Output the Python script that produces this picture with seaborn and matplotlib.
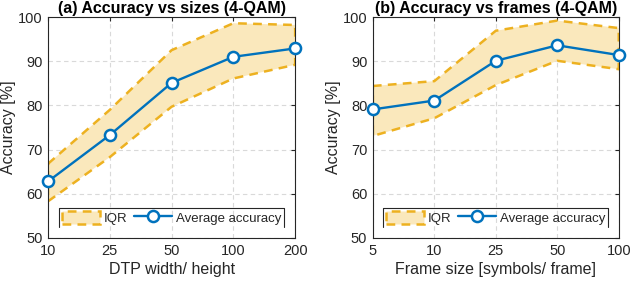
import matplotlib
matplotlib.use("Agg")
import matplotlib.pyplot as plt
import matplotlib.patches as mpatches
import seaborn as sns
import pandas as pd


# Data
SIZE_LABELS = ["10", "25", "50", "100", "200"]
SIZE_MEAN = [62.8, 73.3, 85.1, 91.0, 92.9]
SIZE_Q1 = [58.3, 68.3, 79.7, 86.1, 89.2]
SIZE_Q3 = [66.8, 79.0, 92.5, 98.6, 98.2]

FRAME_LABELS = ["5", "10", "25", "50", "100"]
FRAME_MEAN = [79.1, 81.1, 90.1, 93.6, 91.4]
FRAME_Q1 = [73.1, 77.1, 84.6, 90.1, 88.2]
FRAME_Q3 = [84.4, 85.5, 96.9, 99.2, 97.5]

ORANGE = "#EDB120"
FILL = "#FAE8BC"
BLUE = "#0072BD"

sns.set_style("white")
plt.rcParams["font.family"] = ["Liberation Sans", "DejaVu Sans"]
plt.rcParams["font.size"] = 10


def draw_panel(ax, labels, mean, q1, q3, title, xlabel):
    df = pd.DataFrame({"pos": range(len(labels)), "mean": mean})

    # IQR band as a polygon with a dashed edge
    xs = list(df["pos"]) + list(df["pos"])[::-1]
    ys = list(q3) + list(q1)[::-1]
    ax.fill(xs, ys, facecolor=FILL, edgecolor=ORANGE, linestyle=(0, (3.5, 2.5)),
            linewidth=1.8, zorder=2)

    sns.lineplot(data=df, x="pos", y="mean", ax=ax, color=BLUE, linewidth=1.7,
                 marker="o", markersize=8, markerfacecolor="white",
                 markeredgecolor=BLUE, markeredgewidth=1.8, zorder=4,
                 clip_on=False)

    ax.set_xlim(0, len(labels) - 1)
    ax.set_ylim(50, 100)
    ax.set_xticks(range(len(labels)))
    ax.set_xticklabels(labels)
    ax.set_yticks(range(50, 101, 10))
    ax.grid(True, color="#d9d9d9", linestyle=(0, (4, 3)), linewidth=0.8)
    ax.set_axisbelow(True)
    ax.tick_params(direction="in", length=3, color="#262626", labelcolor="#262626",
                   labelsize=10.5, top=True, right=True, pad=4)
    for sp in ax.spines.values():
        sp.set_color("#262626")
        sp.set_linewidth(0.8)
    ax.set_title(title, fontweight="bold", fontsize=11.5, pad=3, color="#000000")
    ax.set_xlabel(xlabel, fontsize=11.5, color="#262626", labelpad=3)
    ax.set_ylabel("Accuracy [%]", fontsize=11.5, color="#262626", labelpad=1)

    handles = [
        mpatches.Patch(facecolor=FILL, edgecolor=ORANGE, linestyle=(0, (3.5, 2.5)),
                       linewidth=1.8, label="IQR"),
        plt.Line2D([], [], color=BLUE, linewidth=1.7, marker="o", markersize=8,
                   markerfacecolor="white", markeredgecolor=BLUE,
                   markeredgewidth=1.8, label="Average accuracy"),
    ]
    leg = ax.legend(handles=handles, ncol=2, loc="lower center",
                    bbox_to_anchor=(0.5, 0.03), frameon=False, fontsize=9.5,
                    handlelength=2.9, handleheight=1.2, columnspacing=0.5,
                    handletextpad=0.3, borderpad=0.2, borderaxespad=0.3)
    return leg


fig = plt.figure(figsize=(6.32, 2.84), dpi=100)
ax1 = fig.add_axes([0.076, 0.162, 0.391, 0.778])
ax2 = fig.add_axes([0.590, 0.162, 0.389, 0.778])

legs = [
    draw_panel(ax1, SIZE_LABELS, SIZE_MEAN, SIZE_Q1, SIZE_Q3,
               "(a) Accuracy vs sizes (4-QAM)", "DTP width/ height"),
    draw_panel(ax2, FRAME_LABELS, FRAME_MEAN, FRAME_Q1, FRAME_Q3,
               "(b) Accuracy vs frames (4-QAM)", "Frame size [symbols/ frame]"),
]

# legend frame without the bottom edge, as in the original
fig.canvas.draw()
for ax, leg in zip([ax1, ax2], legs):
    bb = leg.get_window_extent().transformed(ax.transAxes.inverted())
    ax.plot([bb.x0, bb.x0, bb.x1, bb.x1], [bb.y0, bb.y1, bb.y1, bb.y0],
            transform=ax.transAxes, color="#262626", linewidth=0.8,
            clip_on=False, zorder=5)

fig.savefig("out.png", dpi=100)
